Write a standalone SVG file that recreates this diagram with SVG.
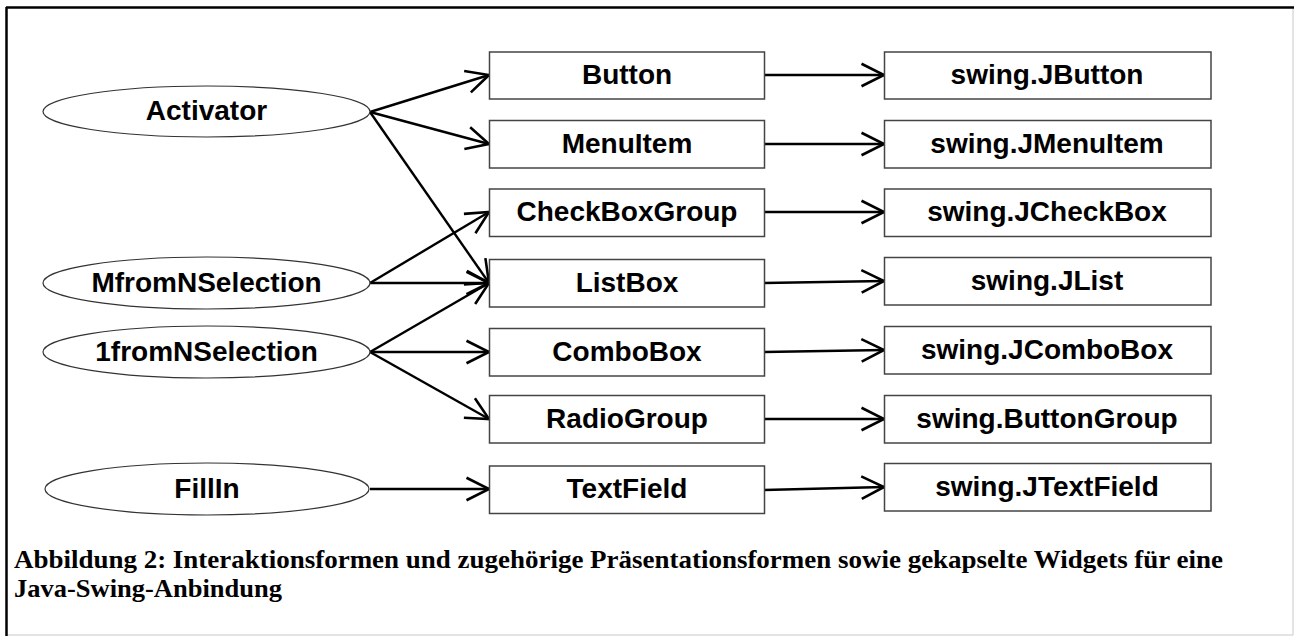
<svg xmlns="http://www.w3.org/2000/svg" width="1295" height="636" viewBox="0 0 1295 636">
  <style>
    .frame-dark { stroke: #000; stroke-width: 2.5; fill: none; }
    .frame-light { stroke: #c8c8c8; stroke-width: 1; fill: none; }
    .box { fill: #fff; stroke: #444; stroke-width: 1.5; }
    .oval { fill: #fff; stroke: #333; stroke-width: 1.2; }
    .lbl { font-family: "Liberation Sans", Arial, sans-serif; font-weight: bold; font-size: 28px; fill: #000; text-anchor: middle; }
    .edge { stroke: #000; stroke-width: 2.4; fill: none; marker-end: url(#open-arrow); }
    .caption { font-family: "Liberation Serif", "Times New Roman", serif; font-weight: bold; font-size: 26px; fill: #000; }
  </style>
  <defs>
    <marker id="open-arrow" markerUnits="userSpaceOnUse" markerWidth="30" markerHeight="30" viewBox="-24 -14 28 28" refX="0" refY="0" orient="auto">
      <path d="M-21,-10.5 L0,0 L-21,10.5" fill="none" stroke="#000" stroke-width="2.4" stroke-linejoin="miter"/>
    </marker>
  </defs>

  <rect width="1295" height="636" fill="#fff"/>

  <!-- page frame -->
  <g id="frame">
    <line class="frame-light" x1="1293" y1="7" x2="1293" y2="635"/>
    <line class="frame-light" x1="6" y1="635" x2="1293" y2="635"/>
    <line class="frame-dark" x1="6" y1="7.5" x2="1294" y2="7.5"/>
    <line class="frame-dark" x1="6.5" y1="7" x2="6.5" y2="636"/>
  </g>

  <!-- connectors -->
  <g id="connectors">
    <line class="edge" x1="370" y1="112" x2="489" y2="75"/>
    <line class="edge" x1="370" y1="112" x2="489" y2="144"/>
    <line class="edge" x1="370" y1="112" x2="489" y2="283"/>
    <line class="edge" x1="370" y1="283" x2="489" y2="212"/>
    <line class="edge" x1="370" y1="283" x2="489" y2="283"/>
    <line class="edge" x1="370" y1="352" x2="489" y2="283"/>
    <line class="edge" x1="370" y1="352" x2="489" y2="352"/>
    <line class="edge" x1="370" y1="352" x2="489" y2="419"/>
    <line class="edge" x1="370" y1="489" x2="489" y2="489"/>

    <line class="edge" x1="764" y1="75" x2="884" y2="75"/>
    <line class="edge" x1="764" y1="144" x2="884" y2="144"/>
    <line class="edge" x1="764" y1="212" x2="884" y2="212"/>
    <line class="edge" x1="764" y1="283" x2="884" y2="281"/>
    <line class="edge" x1="764" y1="352" x2="884" y2="350"/>
    <line class="edge" x1="764" y1="419" x2="884" y2="419"/>
    <line class="edge" x1="764" y1="490" x2="884" y2="487"/>
  </g>

  <!-- interaction forms -->
  <g id="activator">
    <ellipse class="oval" cx="206.5" cy="111.5" rx="163.5" ry="25.5"/>
    <text class="lbl" x="206.5" y="120">Activator</text>
  </g>
  <g id="mfromn-selection">
    <ellipse class="oval" cx="206.5" cy="283" rx="163.5" ry="26"/>
    <text class="lbl" x="206.5" y="292">MfromNSelection</text>
  </g>
  <g id="onefromn-selection">
    <ellipse class="oval" cx="206.5" cy="352" rx="163.5" ry="26"/>
    <text class="lbl" x="206.5" y="361">1fromNSelection</text>
  </g>
  <g id="fillin">
    <ellipse class="oval" cx="207" cy="489" rx="162" ry="26"/>
    <text class="lbl" x="207" y="498">FillIn</text>
  </g>

  <!-- presentation forms -->
  <g id="button">
    <rect class="box" x="489.5" y="52" width="275" height="47"/>
    <text class="lbl" x="627" y="84">Button</text>
  </g>
  <g id="menuitem">
    <rect class="box" x="489.5" y="120.5" width="275" height="47.5"/>
    <text class="lbl" x="627" y="153">MenuItem</text>
  </g>
  <g id="checkboxgroup">
    <rect class="box" x="489.5" y="189" width="275" height="47.5"/>
    <text class="lbl" x="627" y="221">CheckBoxGroup</text>
  </g>
  <g id="listbox">
    <rect class="box" x="489.5" y="259.5" width="275" height="47.5"/>
    <text class="lbl" x="627" y="292">ListBox</text>
  </g>
  <g id="combobox">
    <rect class="box" x="489.5" y="328.5" width="275" height="47.5"/>
    <text class="lbl" x="627" y="361">ComboBox</text>
  </g>
  <g id="radiogroup">
    <rect class="box" x="489.5" y="395.5" width="275" height="47.5"/>
    <text class="lbl" x="627" y="428">RadioGroup</text>
  </g>
  <g id="textfield">
    <rect class="box" x="489.5" y="466" width="275" height="47.5"/>
    <text class="lbl" x="627" y="498">TextField</text>
  </g>

  <!-- encapsulated swing widgets -->
  <g id="jbutton">
    <rect class="box" x="884.5" y="52" width="326.5" height="47"/>
    <text class="lbl" x="1047" y="84">swing.JButton</text>
  </g>
  <g id="jmenuitem">
    <rect class="box" x="884.5" y="120.5" width="326.5" height="47.5"/>
    <text class="lbl" x="1047" y="153">swing.JMenuItem</text>
  </g>
  <g id="jcheckbox">
    <rect class="box" x="884.5" y="189" width="326.5" height="47.5"/>
    <text class="lbl" x="1047" y="221">swing.JCheckBox</text>
  </g>
  <g id="jlist">
    <rect class="box" x="884.5" y="257.5" width="326.5" height="47.5"/>
    <text class="lbl" x="1047" y="290">swing.JList</text>
  </g>
  <g id="jcombobox">
    <rect class="box" x="884.5" y="326.5" width="326.5" height="47.5"/>
    <text class="lbl" x="1047" y="359">swing.JComboBox</text>
  </g>
  <g id="buttongroup">
    <rect class="box" x="884.5" y="395.5" width="326.5" height="47.5"/>
    <text class="lbl" x="1047" y="428">swing.ButtonGroup</text>
  </g>
  <g id="jtextfield">
    <rect class="box" x="884.5" y="463.5" width="326.5" height="47.5"/>
    <text class="lbl" x="1047" y="496">swing.JTextField</text>
  </g>

  <!-- figure caption -->
  <g id="caption">
    <text class="caption" x="14" y="568" textLength="1209" lengthAdjust="spacingAndGlyphs">Abbildung 2: Interaktionsformen und zugehörige Präsentationsformen sowie gekapselte Widgets für eine</text>
    <text class="caption" x="14" y="597" textLength="268" lengthAdjust="spacingAndGlyphs">Java-Swing-Anbindung</text>
  </g>
</svg>
